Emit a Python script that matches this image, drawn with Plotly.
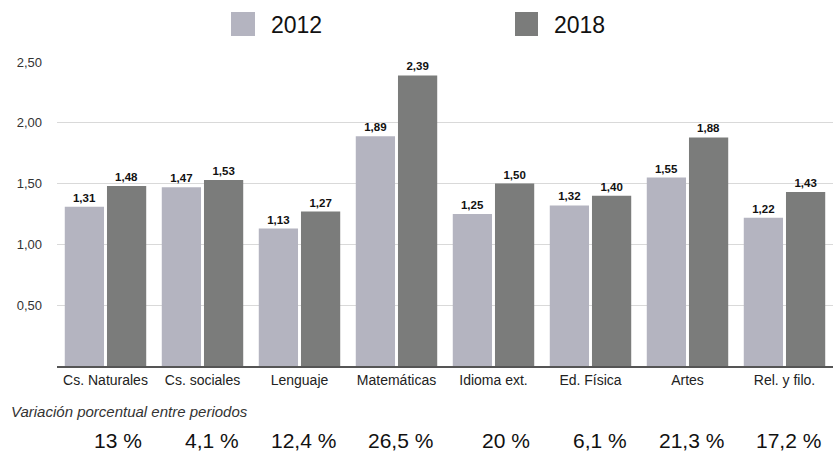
import plotly.graph_objects as go

# Subject categories and average values per year
categorias = ["Cs. Naturales", "Cs. sociales", "Lenguaje", "Matemáticas",
              "Idioma ext.", "Ed. Física", "Artes", "Rel. y filo."]
valores_2012 = [1.31, 1.47, 1.13, 1.89, 1.25, 1.32, 1.55, 1.22]
valores_2018 = [1.48, 1.53, 1.27, 2.39, 1.50, 1.40, 1.88, 1.43]
variacion = ["13 %", "4,1 %", "12,4 %", "26,5 %", "20 %", "6,1 %", "21,3 %", "17,2 %"]
ticks_y = [0.5, 1.0, 1.5, 2.0, 2.5]

COLOR_2012 = "#b4b4c0"
COLOR_2018 = "#7b7c7b"
FONT = "Liberation Sans, Arial, Helvetica, sans-serif"

W, H = 833, 454
M_L, M_R, M_T, M_B = 57, 0, 62, 88
PW, PH = W - M_L - M_R, H - M_T - M_B


def px_x(px):
    return (px - M_L) / PW


def px_y(py):
    return (H - M_B - py) / PH


fig = go.Figure()
for nombre, vals, color in [("2012", valores_2012, COLOR_2012),
                            ("2018", valores_2018, COLOR_2018)]:
    fig.add_trace(go.Bar(
        x=categorias, y=vals, name=nombre,
        marker=dict(color=color, line=dict(width=0)),
        texttemplate="<b>%{y:.2f}</b>", textposition="outside",
        textfont=dict(family=FONT, size=11.5, color="#111"),
        cliponaxis=False, showlegend=False,
    ))

# Custom legend with large square swatches
shapes = []
annotations = []
for x0, x1, xt, label, color in [(231, 255, 269, "2012", COLOR_2012),
                                 (515, 538, 552, "2018", COLOR_2018)]:
    shapes.append(dict(type="rect", xref="paper", yref="paper",
                       x0=px_x(x0), x1=px_x(x1), y0=px_y(36), y1=px_y(12),
                       fillcolor=color, line=dict(width=0)))
    annotations.append(dict(xref="paper", yref="paper", x=px_x(xt), y=px_y(25),
                            text=label, showarrow=False, xanchor="left", yanchor="middle",
                            font=dict(family=FONT, size=23, color="#111")))

annotations.append(dict(xref="paper", yref="paper", x=px_x(9), y=px_y(411),
                        text="<i>Variación porcentual entre periodos</i>",
                        showarrow=False, xanchor="left", yanchor="middle",
                        font=dict(family=FONT, size=15, color="#333")))

# Percentage change row, right-aligned just past each category centre
for cat, txt in zip(categorias, variacion):
    annotations.append(dict(xref="x", yref="paper", x=cat, y=px_y(440),
                            text=txt, showarrow=False, xanchor="right", yanchor="middle",
                            xshift=38, font=dict(family=FONT, size=21, color="#111")))

fig.update_layout(
    width=W, height=H,
    margin=dict(l=M_L, r=M_R, t=M_T, b=M_B),
    paper_bgcolor="white", plot_bgcolor="white",
    barmode="group", bargap=0.13, bargroupgap=0.07,
    separators=",.",
    shapes=shapes, annotations=annotations,
    font=dict(family=FONT),
)
fig.update_xaxes(
    showgrid=False, showline=True, linecolor="#555", linewidth=1.5,
    ticks="", tickfont=dict(family=FONT, size=14, color="#222"),
)
fig.update_yaxes(
    range=[0, 2.5], tickvals=ticks_y, tickformat=".2f",
    showgrid=True, gridcolor="#d9d9d9", gridwidth=1,
    zeroline=False, showline=False, ticks="",
    ticklabelstandoff=14,
    tickfont=dict(family=FONT, size=13, color="#333"),
)

fig.write_html("out.html")
